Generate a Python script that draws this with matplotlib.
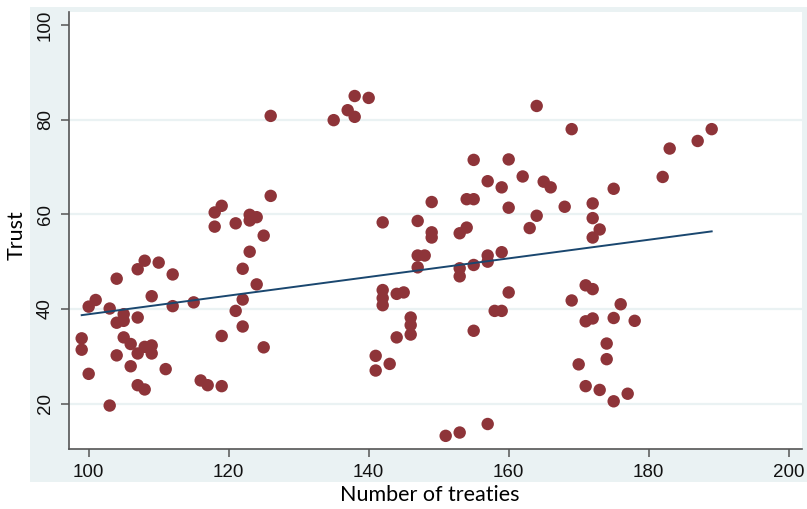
import matplotlib
matplotlib.use("Agg")
import matplotlib.pyplot as plt
from matplotlib.patches import Rectangle

# Data
treaties = [99, 99, 100, 100, 101, 103, 103, 104, 104, 104, 105, 105, 105, 106, 106,
            107, 107, 107, 107, 108, 108, 108, 109, 109, 109, 110, 111, 112, 112, 115,
            116, 117, 118, 118, 119, 119, 119, 121, 121, 122, 122, 122, 123, 123, 123,
            124, 124, 125, 125, 126, 126, 135, 137, 138, 138, 140, 141, 141, 142, 142,
            142, 142, 143, 144, 144, 145, 146, 146, 146, 147, 147, 147, 148, 149, 149,
            149, 151, 153, 153, 153, 153, 154, 154, 155, 155, 155, 155, 157, 157, 157,
            157, 158, 159, 159, 159, 160, 160, 160, 162, 163, 164, 164, 165, 166, 168,
            169, 169, 170, 171, 171, 171, 172, 172, 172, 172, 172, 173, 173, 174, 174,
            175, 175, 175, 176, 177, 178, 182, 183, 187, 189]
trust = [33.8, 31.4, 40.5, 26.3, 41.9, 40.1, 19.6, 46.4, 37.1, 30.2, 38.9, 37.5, 34.0, 32.6, 27.9,
         48.4, 38.2, 30.6, 23.9, 50.2, 32.0, 23.0, 42.7, 32.3, 30.6, 49.8, 27.3, 47.3, 40.6, 41.4,
         24.9, 23.9, 60.4, 57.4, 61.8, 34.3, 23.7, 58.1, 39.6, 48.5, 42.0, 36.3, 59.9, 58.7, 52.1,
         59.4, 45.2, 55.5, 31.9, 80.8, 63.9, 79.9, 82.0, 85.0, 80.6, 84.6, 30.1, 27.0, 58.3, 44.0,
         42.3, 40.8, 28.4, 43.2, 34.0, 43.5, 38.2, 36.6, 34.6, 58.6, 51.3, 48.8, 51.3, 62.6, 56.2,
         55.1, 13.2, 56.0, 48.6, 46.9, 13.9, 63.2, 57.2, 63.2, 71.5, 49.3, 35.4, 67.0, 51.3, 50.0,
         15.7, 39.6, 65.7, 52.0, 39.6, 71.6, 61.4, 43.5, 68.0, 57.1, 82.9, 59.7, 66.9, 65.7, 61.6,
         78.0, 41.8, 28.3, 45.0, 37.4, 23.7, 62.3, 59.2, 55.1, 44.2, 38.0, 56.8, 22.9, 32.7, 29.4,
         65.4, 38.1, 20.5, 41.0, 22.1, 37.5, 67.9, 73.9, 75.5, 78.0]

fit_x = [99, 189]
fit_y = [38.7, 56.4]

x_ticks = [100, 120, 140, 160, 180, 200]
y_ticks = [20, 40, 60, 80, 100]
grid_y = [20, 40, 60, 80]

W, H = 807, 509
fig = plt.figure(figsize=(W / 100, H / 100), dpi=100)
fig.patch.set_facecolor("white")

bg = "#EAF2F3"
fig.patches.append(Rectangle((30 / W, 1 - 482 / H), 1 - 30 / W, (482 - 7) / H,
                             transform=fig.transFigure, facecolor=bg,
                             edgecolor="none", zorder=-1))

ax = fig.add_axes([69.3 / W, 1 - 449 / H, (801.7 - 69.3) / W, (449 - 12) / H])
ax.set_facecolor("white")
ax.set_xlim(97.23, 201.86)
ax.set_ylim(10.42, 102.75)

for gy in grid_y:
    ax.axhline(gy, color=bg, lw=1.6, zorder=0)

ax.scatter(treaties, trust, s=80, color="#8E3439", edgecolors="none", zorder=3)
ax.plot(fit_x, fit_y, color="#1A476F", lw=1.4, zorder=4)

for side in ["top", "right"]:
    ax.spines[side].set_visible(False)
for side in ["left", "bottom"]:
    ax.spines[side].set_color("#555555")
    ax.spines[side].set_linewidth(1.2)

tick_font = dict(family="Liberation Sans", size=13.5)
ax.set_xticks(x_ticks)
ax.set_xticklabels([str(t) for t in x_ticks], **tick_font)
ax.set_yticks(y_ticks)
ax.set_yticklabels([str(t) for t in y_ticks], rotation=90, va="center", **tick_font)
ax.tick_params(axis="both", direction="out", length=6, width=1.1,
               color="#555555", labelcolor="#111111", pad=5)

title_font = dict(family="Lato", size=15.5, color="#000000")
fig.text(430 / W, 1 - 495 / H, "Number of treaties", ha="center", va="center", **title_font)
fig.text(17 / W, 1 - 235 / H, "Trust", ha="center", va="center", rotation=90, **title_font)

fig.savefig("out.png", dpi=100)
